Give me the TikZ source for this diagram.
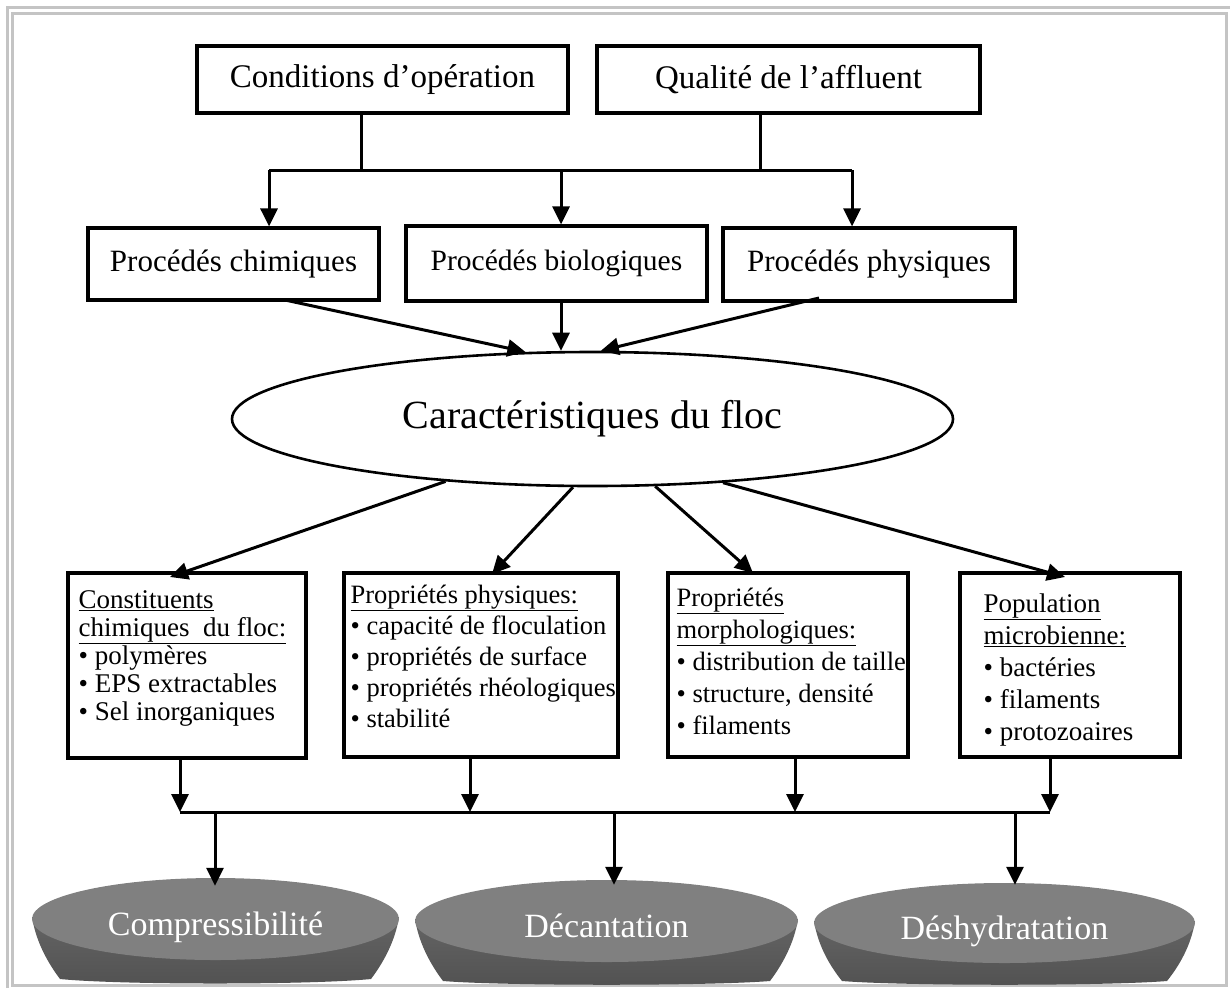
\documentclass[tikz,border=0pt]{standalone}
\usepackage{fontspec}
\setmainfont{Liberation Serif}
\usetikzlibrary{arrows.meta,shapes.geometric,calc}
\begin{document}
\begin{tikzpicture}[x=1pt,y=-1pt,
  fr/.style={draw=black!23,line width=3pt},
  box/.style={draw,line width=3.2pt,rectangle,inner sep=0pt},
  ln/.style={line width=3pt},
  arr/.style={line width=3pt,-{Triangle[length=18pt,width=17pt]}},
  ltext/.style={align=left,inner sep=0pt,anchor=north west},
  dish/.style={ellipse,fill=dishtop,inner sep=0pt,text=white,font=\fontsize{34}{38}\selectfont,text height=32pt,text depth=0pt},
  rim/.style={top color=dishrimtop,bottom color=dishrimbot}
]
\definecolor{dishtop}{RGB}{128,128,128}
\definecolor{dishrimtop}{RGB}{100,100,100}
\definecolor{dishrimbot}{RGB}{82,82,82}
\useasboundingbox (0,0) rectangle (1230,988);
% frame
\draw[fr] (7.5,988) -- (7.5,7.5) -- (1230,7.5);
\draw[fr] (12.5,13.5) rectangle (1226.5,985);

% top boxes
\node[box,minimum width=371,minimum height=67,font=\fontsize{33}{36}\selectfont] (cond) at (382.5,79.5) {Conditions d’opération};
\node[box,minimum width=383,minimum height=67,font=\fontsize{33}{36}\selectfont] (qual) at (788.5,79.5) {Qualité de l’affluent};

% procedes
\node[box,minimum width=291,minimum height=72,font=\fontsize{31}{34}\selectfont] (chim) at (233.5,264) {Procédés chimiques};
\node[box,minimum width=301,minimum height=75,font=\fontsize{29.5}{33}\selectfont] (bio) at (556.5,263.5) {Procédés biologiques};
\node[box,minimum width=292,minimum height=73,font=\fontsize{31}{34}\selectfont] (phys) at (869,264.5) {Procédés physiques};

% top connectors
\coordinate (jc) at (361,170);
\coordinate (jq) at (760,170);
\coordinate (ja) at (269,170);
\coordinate (jb) at (561,170);
\coordinate (jp) at (852,170);
\draw[ln] (jc |- cond.south) -- (jc);
\draw[ln] (jq |- qual.south) -- (jq);
\draw[ln] (ja) -- (jp);
\draw[arr] (ja) -- (ja |- chim.north);
\draw[arr] (jb) -- (jb |- bio.north);
\draw[arr] (jp) -- (jp |- phys.north);

% ellipse
\node[draw,ellipse,line width=2.6pt,minimum width=721,minimum height=134,inner sep=0pt,font=\fontsize{40}{44}\selectfont] (floc) at (592.5,419) {Caractéristiques du floc};

\coordinate (sa) at (285,300);
\coordinate (sp) at (819,298);
\draw[arr] (sa) -- (floc.135.2);
\draw[arr] (jb |- bio.south) -- (jb |- floc.north);
\draw[arr] (sp) -- (floc.83.8);

% lower boxes
\node[box,minimum width=238,minimum height=185] (c1) at (187,665.5) {};
\node[box,minimum width=274,minimum height=184] (c2) at (481,665) {};
\node[box,minimum width=240,minimum height=184] (c3) at (788,665) {};
\node[box,minimum width=220,minimum height=184] (c4) at (1070,665) {};

\node[ltext,font=\fontsize{27}{28}\selectfont] (c1t) at ($(c1.north west)+(12,19)$)
 {\underline{Constituents}\\ \underline{chimiques\ \ du floc:}\\ • polymères\\ • EPS extractables\\ • Sel inorganiques};
\node[ltext,font=\fontsize{26.5}{31}\selectfont] (c2t) at ($(c2.north west)+(8,13)$)
 {\underline{Propriétés physiques:}\\ • capacité de floculation\\ • propriétés de surface\\ • propriétés rhéologiques\\ • stabilité};
\node[ltext,font=\fontsize{26.5}{32}\selectfont] (c3t) at ($(c3.north west)+(10,16)$)
 {\underline{Propriétés}\\ \underline{morphologiques:}\\ • distribution de taille\\ • structure, densité\\ • filaments};
\node[ltext,font=\fontsize{27}{32}\selectfont] (c4t) at ($(c4.north west)+(25,22)$)
 {\underline{Population}\\ \underline{microbienne:}\\ • bactéries\\ • filaments\\ • protozoaires};

% ellipse to lower boxes
\coordinate (t1) at (170,577);
\coordinate (t2) at (492,574);
\coordinate (t3) at (753,573);
\coordinate (t4) at (1065,577);
\draw[arr] (floc.203.9) -- (t1);
\draw[arr] (floc.254.7) -- (t2);
\draw[arr] (floc.313.4) -- (t3);
\draw[arr] (floc.334.2) -- (t4);

% bottom collector
\coordinate (m1) at (180,812);
\coordinate (m2) at (470,812);
\coordinate (m3) at (795,812);
\coordinate (m4) at (1050,812);
\draw[ln] (m1) -- (m4);
\draw[arr] (m1 |- c1.south) -- (m1);
\draw[arr] (m2 |- c2.south) -- (m2);
\draw[arr] (m3 |- c3.south) -- (m3);
\draw[arr] (m4 |- c4.south) -- (m4);

% dishes
\path[rim] (32,917) .. controls (36,942) and (48,963) .. (60,979) .. controls (120,985) and (310,985) .. (371,979) .. controls (383,963) and (395,942) .. (399,917) -- cycle;
\node[dish,minimum width=367,minimum height=82] (d1) at (215.5,919) {Compressibilité};
\path[rim] (415,919) .. controls (419,944) and (431,965) .. (443,981) .. controls (505,986) and (708,986) .. (770,981) .. controls (782,965) and (794,944) .. (798,919) -- cycle;
\node[dish,minimum width=383,minimum height=82] (d2) at (606.5,921) {Décantation};
\path[rim] (814,921) .. controls (818,946) and (830,966) .. (842,981) .. controls (904,986) and (1105,986) .. (1167,981) .. controls (1179,966) and (1191,946) .. (1195,921) -- cycle;
\node[dish,minimum width=381,minimum height=80] (d3) at (1004.5,923) {Déshydratation};

\coordinate (k1) at (215,812);
\coordinate (k2) at (614,812);
\coordinate (k3) at (1015,812);
\draw[arr,shorten >=-8pt] (k1) -- (k1 |- d1.north);
\draw[arr,shorten >=-5pt] (k2) -- (k2 |- d2.north);
\draw[arr,shorten >=-2pt] (k3) -- (k3 |- d3.north);
\end{tikzpicture}
\end{document}
